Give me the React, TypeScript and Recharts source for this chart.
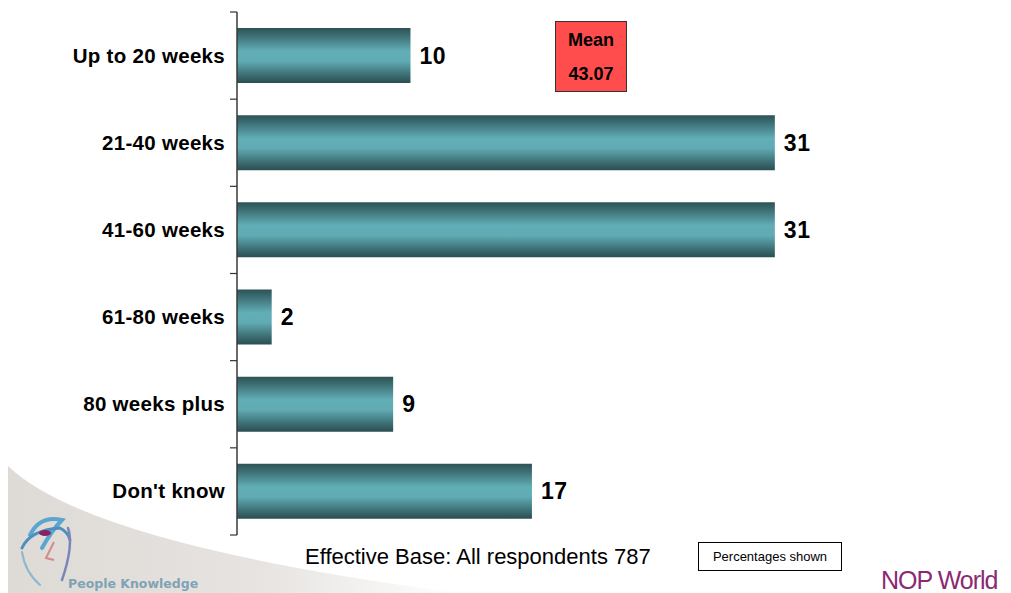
import { Bar, BarChart, LabelList, XAxis, YAxis } from "recharts"

const categories = [
  "Up to 20 weeks",
  "21-40 weeks",
  "41-60 weeks",
  "61-80 weeks",
  "80 weeks plus",
  "Don't know",
]
const percentages = [10, 31, 31, 2, 9, 17]
const meanLabel = "Mean"
const meanValue = "43.07"
const baseNote = "Effective Base: All respondents 787"
const shownNote = "Percentages shown"

const data = categories.map((label, i) => ({ label, value: percentages[i] }))

const W = 1011
const H = 593
const MARGIN = { top: 12, right: 80, bottom: 58, left: 0 }
const BAND = (H - MARGIN.top - MARGIN.bottom) / categories.length
const FONT = "'Liberation Sans', Arial, Helvetica, sans-serif"

function CategoryTick(props: any) {
  const { x, y, payload, index } = props
  const half = BAND / 2
  return (
    <g>
      <line x1={x} x2={x + 7} y1={y - half} y2={y - half} stroke="#333" strokeWidth={1.2} />
      {index === categories.length - 1 && (
        <line x1={x} x2={x + 7} y1={y + half} y2={y + half} stroke="#333" strokeWidth={1.2} />
      )}
      <text
        x={x - 5}
        y={y}
        dy={7}
        textAnchor="end"
        fontFamily={FONT}
        fontWeight="bold"
        fontSize={20.5}
        letterSpacing={0.3}
        fill="#000"
      >
        {payload.value}
      </text>
    </g>
  )
}

export default function App() {
  return (
    <div
      style={{
        position: "absolute",
        left: 0,
        top: 0,
        width: W,
        height: H,
        background: "#fff",
        overflow: "hidden",
        fontFamily: FONT,
      }}
    >
      {/* grey swoosh + logo in the corner */}
      <svg width={W} height={H} style={{ position: "absolute", left: 0, top: 0 }}>
        <defs>
          <linearGradient id="swoosh" x1="0" y1="0" x2="1" y2="0">
            <stop offset="0" stopColor="#dedad6" />
            <stop offset="0.55" stopColor="#e6e3e0" />
            <stop offset="1" stopColor="#ffffff" />
          </linearGradient>
        </defs>
        <path d="M8,466 Q 90,545 460,593 L8,593 Z" fill="url(#swoosh)" />
        <path d="M30,535 Q 40,515 62,520 Q 52,530 42,548" fill="none" stroke="#5aa6cf" strokeWidth={4} strokeLinecap="round" />
        <path d="M22,548 Q 30,530 60,528 Q 68,532 70,540" fill="none" stroke="#4d8fc0" strokeWidth={3} strokeLinecap="round" />
        <path d="M68,528 Q 74,545 62,580" fill="none" stroke="#7a86b8" strokeWidth={2.5} strokeLinecap="round" />
        <path d="M22,552 Q 25,572 40,585" fill="none" stroke="#8fb7cf" strokeWidth={2} strokeLinecap="round" />
        <ellipse cx={45} cy={533} rx={6} ry={3} fill="#8a1f63" />
        <path d="M54,542 L46,558 L54,560" fill="none" stroke="#d48a8a" strokeWidth={2} />
        <text x={68} y={588} fontFamily="'DejaVu Sans', Verdana, sans-serif" fontWeight="bold" fontSize={12.5} fill="#7ea3b5">
          People Knowledge
        </text>
        <text x={881} y={589} fontFamily={FONT} fontSize={25} letterSpacing={-1} fill="#8a2a72">
          NOP World
        </text>
      </svg>

      <div style={{ position: "absolute", left: 0, top: 0 }}>
        <BarChart width={W} height={H} data={data} layout="vertical" margin={MARGIN}>
          <defs>
            <linearGradient id="barGrad" x1="0" y1="0" x2="0" y2="1">
              <stop offset="0" stopColor="#2d5256" />
              <stop offset="0.15" stopColor="#3d7176" />
              <stop offset="0.42" stopColor="#62aeb6" />
              <stop offset="0.6" stopColor="#61acb4" />
              <stop offset="0.85" stopColor="#3c6f74" />
              <stop offset="1" stopColor="#2b4e52" />
            </linearGradient>
          </defs>
          <XAxis type="number" domain={[0, 40]} hide />
          <YAxis
            type="category"
            dataKey="label"
            width={237}
            axisLine={{ stroke: "#3a3a3a", strokeWidth: 1.5 }}
            tickLine={false}
            tickSize={7}
            tickMargin={0}
            interval={0}
            tick={<CategoryTick />}
          />
          <Bar dataKey="value" fill="url(#barGrad)" barSize={55} isAnimationActive={false}>
            <LabelList
              dataKey="value"
              position="right"
              offset={9}
              fill="#000"
              fontFamily={FONT}
              fontWeight="bold"
              fontSize={23}
              letterSpacing={0.5}
            />
          </Bar>
        </BarChart>
      </div>

      {/* mean box */}
      <div
        style={{
          position: "absolute",
          left: 555,
          top: 21,
          width: 70,
          height: 69,
          background: "#ff4d4d",
          border: "1px solid #333",
          textAlign: "center",
          fontWeight: "bold",
          fontSize: 18,
          color: "#000",
        }}
      >
        <div style={{ position: "absolute", left: 0, right: 0, top: 8 }}>{meanLabel}</div>
        <div style={{ position: "absolute", left: 0, right: 0, top: 42 }}>{meanValue}</div>
      </div>

      <div
        style={{
          position: "absolute",
          left: 305,
          top: 544,
          fontSize: 22,
          color: "#000",
          whiteSpace: "nowrap",
        }}
      >
        {baseNote}
      </div>

      <div
        style={{
          position: "absolute",
          left: 698,
          top: 542,
          width: 142,
          height: 27,
          border: "1px solid #000",
          fontSize: 13,
          lineHeight: "27px",
          textAlign: "center",
          color: "#000",
          background: "#fff",
        }}
      >
        {shownNote}
      </div>
    </div>
  )
}
